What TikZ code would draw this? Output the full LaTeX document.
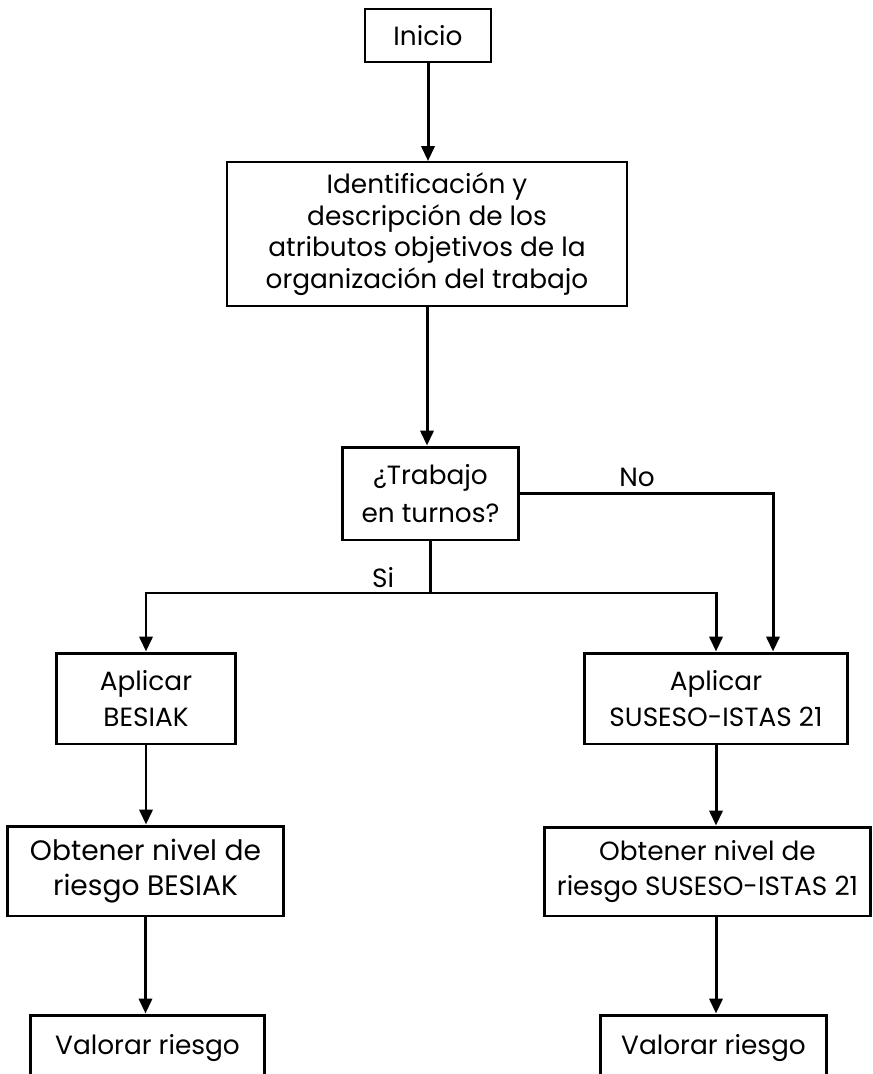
\documentclass[tikz,border=0pt]{standalone}
\usepackage{fontspec}
\setmainfont{Poppins}
\usetikzlibrary{arrows.meta,positioning}

\begin{document}
\begin{tikzpicture}
  [
  x=0.02cm, y=-0.02cm,
  line width=1.7pt,
  >={Triangle[length=8.5pt,width=7.5pt]},
  font=\fontsize{15}{17}\selectfont,
  thinbox/.style={rectangle, inner sep=0pt, align=center, draw=black, line width=1.1pt},
  thickbox/.style={thinbox, line width=1.7pt},
  ]

\useasboundingbox (0,0) rectangle (872,1074);

% cajas
\node[thinbox, minimum width=2.52cm, minimum height=1.06cm] (ini) at (428,35.5) {Inicio};
\node[thinbox, minimum width=8cm, minimum height=2.88cm, font=\fontsize{15}{18}\selectfont] (ident) at (427,234)
  {Identificación y\\descripción de los\\atributos objetivos de la\\organización del trabajo};
\node[thickbox, minimum width=3.54cm, minimum height=1.86cm, font=\fontsize{15}{22}\selectfont] (trab) at (430.5,493.5)
  {¿Trabajo\\en turnos?};
\node[thickbox, minimum width=3.6cm, minimum height=1.82cm, font=\fontsize{15}{20}\selectfont] (besiak) at (146,698.5)
  {Aplicar\\BESIAK};
\node[thickbox, minimum width=5.26cm, minimum height=1.82cm, font=\fontsize{15}{20}\selectfont] (suseso) at (716,698.5)
  {Aplicar\\SUSESO-ISTAS 21};
\node[thickbox, minimum width=5.54cm, minimum height=1.8cm, font=\fontsize{16}{20}\selectfont] (nivb) at (145.5,871)
  {Obtener nivel de\\riesgo BESIAK};
\node[thickbox, minimum width=6.54cm, minimum height=1.78cm, font=\fontsize{15}{20}\selectfont] (nivs) at (707.5,871.5)
  {Obtener nivel de\\riesgo SUSESO-ISTAS 21};
\node[thickbox, minimum width=4.7cm, minimum height=1.32cm] (valb) at (147.5,1048) {Valorar riesgo};
\node[thickbox, minimum width=4.54cm, minimum height=1.32cm] (vals) at (713.5,1048) {Valorar riesgo};

% etiquetas
\node (nolbl) at (637,477) {No};
\node (silbl) at (383,578) {Si};

% flechas
\coordinate (sijoin) at (430.5,593);
\coordinate (nox) at (773,493.5);
\draw[->] (ini.south) -- (ini.south |- ident.north);
\draw[->] (ident.south) -- (ident.south |- trab.north);
\draw (trab.south) -- (sijoin);
\draw[->] (sijoin) -| (besiak.north);
\draw[->] (sijoin) -| (suseso.north);
\draw[->] (trab.east) -- (nox) -- (nox |- suseso.north);
\draw[->] (besiak.south) -- (besiak.south |- nivb.north);
\draw[->] (suseso.south) -- (suseso.south |- nivs.north);
\draw[->] (nivb.south) -- (nivb.south |- valb.north);
\draw[->] (suseso.south |- nivs.south) -- (suseso.south |- vals.north);
\end{tikzpicture}
\end{document}
